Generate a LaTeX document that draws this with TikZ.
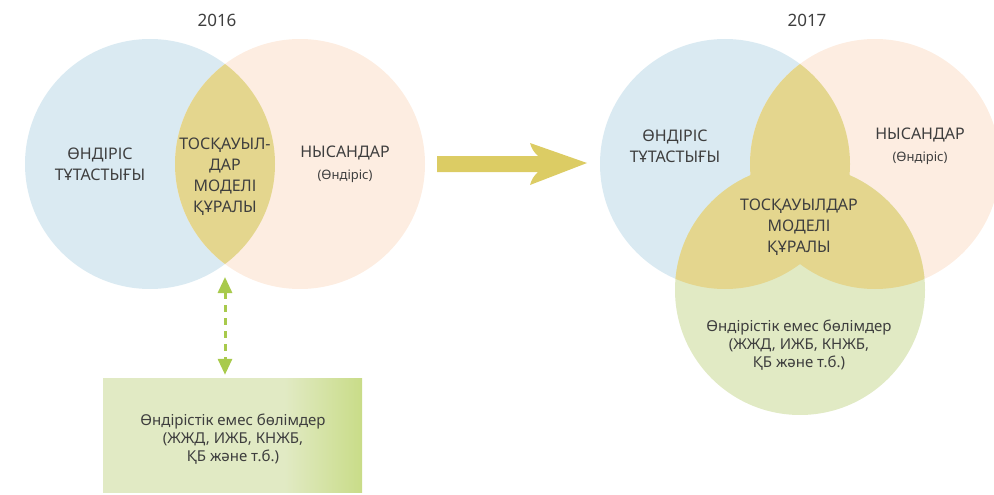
\documentclass[tikz,border=0pt]{standalone}
\usepackage{fontspec}
\setmainfont{Noto Sans}
\usetikzlibrary{arrows.meta,shapes.geometric}
\definecolor{cblue}{RGB}{218,234,242}
\definecolor{corange}{RGB}{253,237,225}
\definecolor{clens}{RGB}{228,214,142}
\definecolor{cgreen}{RGB}{225,234,196}
\definecolor{cgreenB}{RGB}{201,220,136}
\definecolor{carrow}{RGB}{220,204,100}
\definecolor{cdash}{RGB}{168,202,76}
\definecolor{ctext}{RGB}{62,62,62}
\pgfdeclarehorizontalshading{boxgrad}{100bp}{color(0bp)=(cgreen); color(25bp)=(cgreen); color(60bp)=(cgreen); color(75bp)=(cgreenB); color(100bp)=(cgreenB)}
\tikzset{
  venn/.style={circle, minimum size=250pt, inner sep=0pt, draw=none},
  lbl/.style={text=ctext, font=\fontsize{16}{21}\selectfont, align=center, inner sep=0pt},
  sub/.style={text=ctext, font=\fontsize{13}{16}\selectfont, align=center, inner sep=0pt},
  small/.style={text=ctext, font=\fontsize{15}{18}\selectfont, align=center, inner sep=0pt},
  year/.style={text=ctext, font=\fontsize{17}{20}\selectfont, inner sep=0pt},
}
\begin{document}
\begin{tikzpicture}[x=1pt,y=-1pt]
\useasboundingbox (0,0) rectangle (994,495);
% ---- 2016 ----
\node[year] (y1) at (217,20) {2016};
\node[venn, fill=cblue] (b1) at (150,164) {};
\node[venn, fill=corange] (o1) at (300,164) {};
\begin{scope}
  \clip (150,164) circle (125pt);
  \fill[clens] (300,164) circle (125pt);
\end{scope}
\node[lbl] (t1) at (100,164) {ӨНДІРІС\\ТҰТАСТЫҒЫ};
\node[lbl] (t2) at (225,177) {ТОСҚАУЫЛ-\\ДАР\\МОДЕЛІ\\ҚҰРАЛЫ};
\node[lbl] (t3) at (345,153) {НЫСАНДАР};
\node[sub] (t4) at (345,176) {(Өндіріс)};
% box
\node[shading=boxgrad, minimum width=259pt, minimum height=114pt, inner sep=0pt] (box) at (232.5,435) {};
\node[small] (bt) at (233,439) {Өндірістік емес бөлімдер\\(ЖЖД, ИЖБ, КНЖБ,\\ҚБ және т.б.)};
\coordinate (ab) at (225,277);
\draw[cdash, line width=3pt, dash pattern=on 7pt off 6pt,
      {Triangle[length=16pt,width=14pt]}-{Triangle[length=16pt,width=14pt]}]
      (ab) -- ([yshift=3pt]ab |- box.north);
% big arrow
\coordinate (as) at (437,164);
\coordinate (ae) at (587,163);
\fill[carrow] (as) ++(0,-8) -- (538,156) to[bend left=15] (530,143) -- (ae) -- (530,185) to[bend left=15] (538,172) -- (437,172) -- cycle;
% ---- 2017 ----
\node[year] (y2) at (807,20) {2017};
\node[venn, fill=cblue] (b2) at (725,164) {};
\node[venn, fill=corange] (o2) at (875,164) {};
\node[venn, fill=cgreen] (g2) at (800,290) {};
\begin{scope}
  \clip (725,164) circle (125pt);
  \fill[clens] (875,164) circle (125pt);
  \fill[clens] (800,290) circle (125pt);
\end{scope}
\begin{scope}
  \clip (875,164) circle (125pt);
  \fill[clens] (800,290) circle (125pt);
\end{scope}
\node[lbl] (r1) at (675,146) {ӨНДІРІС\\ТҰТАСТЫҒЫ};
\node[lbl] (r3) at (920,135) {НЫСАНДАР};
\node[sub] (r4) at (920,158) {(Өндіріс)};
\node[lbl] (r2) at (799,227) {ТОСҚАУЫЛДАР\\МОДЕЛІ\\ҚҰРАЛЫ};
\node[small] (r5) at (799,345) {Өндірістік емес бөлімдер\\(ЖЖД, ИЖБ, КНЖБ,\\ҚБ және т.б.)};
\end{tikzpicture}
\end{document}
